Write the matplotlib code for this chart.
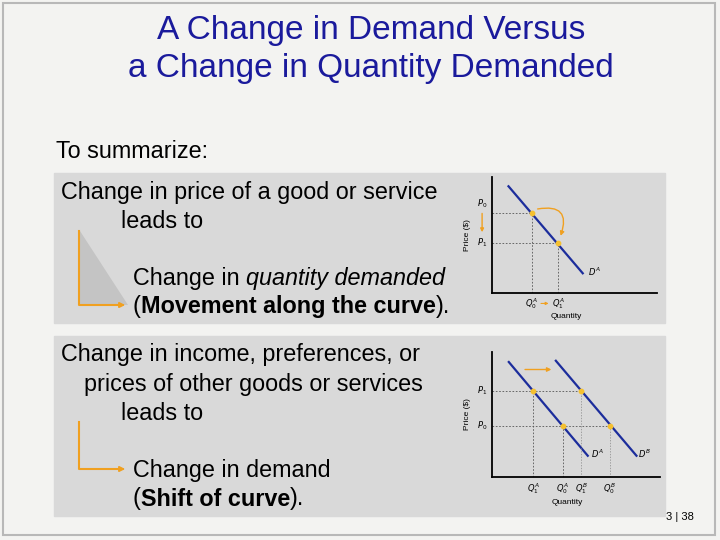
import matplotlib
matplotlib.use("Agg")
import matplotlib.pyplot as plt
from matplotlib.patches import Rectangle, Polygon, FancyArrowPatch

plt.rcParams['font.family'] = ['Liberation Sans', 'DejaVu Sans']

title_lines = ["A Change in Demand Versus", "a Change in Quantity Demanded"]
# chart 1: demand curve D^A, movement along the curve
c1_line_x = [1.0, 5.5]
c1_line_y = [9.2, 1.7]
c1_pts_x = [2.4, 4.0]
c1_pts_y = [6.9, 4.3]
# chart 2: shift from D^A to D^B
c2_a_x = [1.0, 5.7]
c2_a_y = [9.2, 1.7]
c2_b_x = [3.8, 8.6]
c2_b_y = [9.3, 1.7]
c2_prices = [6.9, 4.1]          # P1, P0
c2_a_q = [2.45, 4.2]            # Q1A, Q0A
c2_b_q = [5.3, 7.0]             # Q1B, Q0B

W, H = 720, 540
fig = plt.figure(figsize=(7.2, 5.4), dpi=100)
fig.patch.set_facecolor('#f3f3f1')
bg = fig.add_axes([0, 0, 1, 1])
bg.set_xlim(0, W); bg.set_ylim(H, 0); bg.axis('off')
renderer = fig.canvas.get_renderer()

def runs(x, y, parts, fs):
    for txt, kw in parts:
        t = bg.text(x, y, txt, fontsize=fs, va='center', **kw)
        bb = t.get_window_extent(renderer=renderer)
        x += bb.width

bg.add_patch(Rectangle((3, 3), W - 8, H - 8, fill=False, ec='#b8b8b8', lw=1.5))
blue = '#1a1a9c'
bg.text(371, 30, title_lines[0], ha='center', va='center', fontsize=24, color=blue)
bg.text(371, 68, title_lines[1], ha='center', va='center', fontsize=24, color=blue)
fs = 16.8
bg.text(56, 152, "To summarize:", ha='left', va='center', fontsize=fs)

box = '#d9d9d9'
bg.add_patch(Rectangle((54, 173), 611, 150, color=box))
bg.add_patch(Rectangle((54, 336), 611, 180, color=box))

bg.text(61, 192, "Change in price of a good or service", fontsize=fs, va='center')
bg.text(121, 221, "leads to", fontsize=fs, va='center')
runs(133, 278, [("Change in ", {}), ("quantity demanded", dict(style='italic'))], fs)
runs(133, 307, [("(", {}), ("Movement along the curve", dict(weight='bold')), (").", {})], fs)

bg.text(61, 355, "Change in income, preferences, or", fontsize=fs, va='center')
bg.text(84, 384, "prices of other goods or services", fontsize=fs, va='center')
bg.text(121, 413, "leads to", fontsize=fs, va='center')
bg.text(133, 470, "Change in demand", fontsize=fs, va='center')
runs(133, 499, [("(", {}), ("Shift of curve", dict(weight='bold')), (").", {})], fs)

bg.add_patch(Polygon([(80, 231), (80, 305), (128, 305)], color='#c4c4c4', lw=0))
gold = '#f0a020'
for y0, y1 in [(231, 305), (422, 469)]:
    bg.plot([79, 79, 120], [y0, y1, y1], color=gold, lw=1.5)
    bg.add_patch(FancyArrowPatch((115, y1), (128, y1), arrowstyle='-|>', mutation_scale=8, color=gold, lw=1.2))
bg.text(680, 517, "3 | 38", fontsize=8, ha='center', va='center')

def mk(left, top, w, h):
    ax = fig.add_axes([left / W, 1 - (top + h) / H, w / W, h / H])
    ax.set_xlim(0, 10); ax.set_ylim(0, 10)
    ax.set_facecolor('none')
    for s in ['top', 'right']:
        ax.spines[s].set_visible(False)
    for s in ['left', 'bottom']:
        ax.spines[s].set_linewidth(1.3)
    ax.set_xticks([]); ax.set_yticks([])
    ax.set_ylabel('Price ($)', fontsize=6, labelpad=15)
    return ax

dblue = '#1c2d9c'
pt = '#f5c030'
ax1 = mk(492, 177, 165, 116)
ax1.plot(c1_line_x, c1_line_y, color=dblue, lw=1.6)
for x, y in zip(c1_pts_x, c1_pts_y):
    ax1.plot([0, x], [y, y], ls=(0, (2, 2)), color='#555', lw=0.6)
    ax1.plot([x, x], [0, y], ls=(0, (2, 2)), color='#555', lw=0.6)
ax1.scatter(c1_pts_x, c1_pts_y, s=10, color=pt, zorder=3)
ax1.annotate('', xy=(c1_pts_x[1] + 0.1, c1_pts_y[1] + 0.4), xytext=(c1_pts_x[0] + 0.2, c1_pts_y[0] + 0.3),
             arrowprops=dict(arrowstyle='-|>', color=gold, lw=1, mutation_scale=6, connectionstyle='arc3,rad=-0.9'))
ax1.text(-0.6, c1_pts_y[0] + 0.8, '$P_0$', fontsize=6, ha='center', va='center')
ax1.text(-0.6, c1_pts_y[1], '$P_1$', fontsize=6, ha='center', va='center')
ax1.annotate('', xy=(-0.6, c1_pts_y[1] + 0.7), xytext=(-0.6, c1_pts_y[0] + 0.2),
             arrowprops=dict(arrowstyle='-|>', color=gold, lw=1, mutation_scale=5), annotation_clip=False)
ax1.text(5.8, 1.5, '$D^A$', fontsize=6)
ax1.text(c1_pts_x[0], -0.9, '$Q_0^A$', fontsize=6, ha='center', va='center')
ax1.text(c1_pts_x[1], -0.9, '$Q_1^A$', fontsize=6, ha='center', va='center')
ax1.annotate('', xy=(c1_pts_x[1] - 0.4, -0.9), xytext=(c1_pts_x[0] + 0.4, -0.9),
             arrowprops=dict(arrowstyle='-|>', color=gold, lw=0.8, mutation_scale=4), annotation_clip=False)
ax1.text(4.5, -2.0, 'Quantity', fontsize=6, ha='center', va='center')

ax2 = mk(492, 352, 168, 125)
ax2.plot(c2_a_x, c2_a_y, color=dblue, lw=1.6)
ax2.plot(c2_b_x, c2_b_y, color=dblue, lw=1.6)
for p, qa, qb in zip(c2_prices, c2_a_q, c2_b_q):
    ax2.plot([0, qb], [p, p], ls=(0, (2, 2)), color='#555', lw=0.6)
    ax2.plot([qa, qa], [0, p], ls=(0, (2, 2)), color='#555', lw=0.6)
    ax2.plot([qb, qb], [0, p], ls=(0, (2, 2)), color='#888', lw=0.5)
ax2.scatter(c2_a_q + c2_b_q, c2_prices + c2_prices, s=10, color=pt, zorder=3)
ax2.annotate('', xy=(3.7, 8.6), xytext=(1.8, 8.6),
             arrowprops=dict(arrowstyle='-|>', color=gold, lw=1, mutation_scale=6))
ax2.text(-0.6, c2_prices[0], '$P_1$', fontsize=6, ha='center', va='center')
ax2.text(-0.6, c2_prices[1], '$P_0$', fontsize=6, ha='center', va='center')
ax2.text(5.9, 1.5, '$D^A$', fontsize=6)
ax2.text(8.7, 1.5, '$D^B$', fontsize=6)
for q, lab in zip(c2_a_q + c2_b_q, ['$Q_1^A$', '$Q_0^A$', '$Q_1^B$', '$Q_0^B$']):
    ax2.text(q, -0.9, lab, fontsize=6, ha='center', va='center')
ax2.text(4.5, -2.0, 'Quantity', fontsize=6, ha='center', va='center')

fig.savefig('out.png', dpi=100, facecolor=fig.get_facecolor())
